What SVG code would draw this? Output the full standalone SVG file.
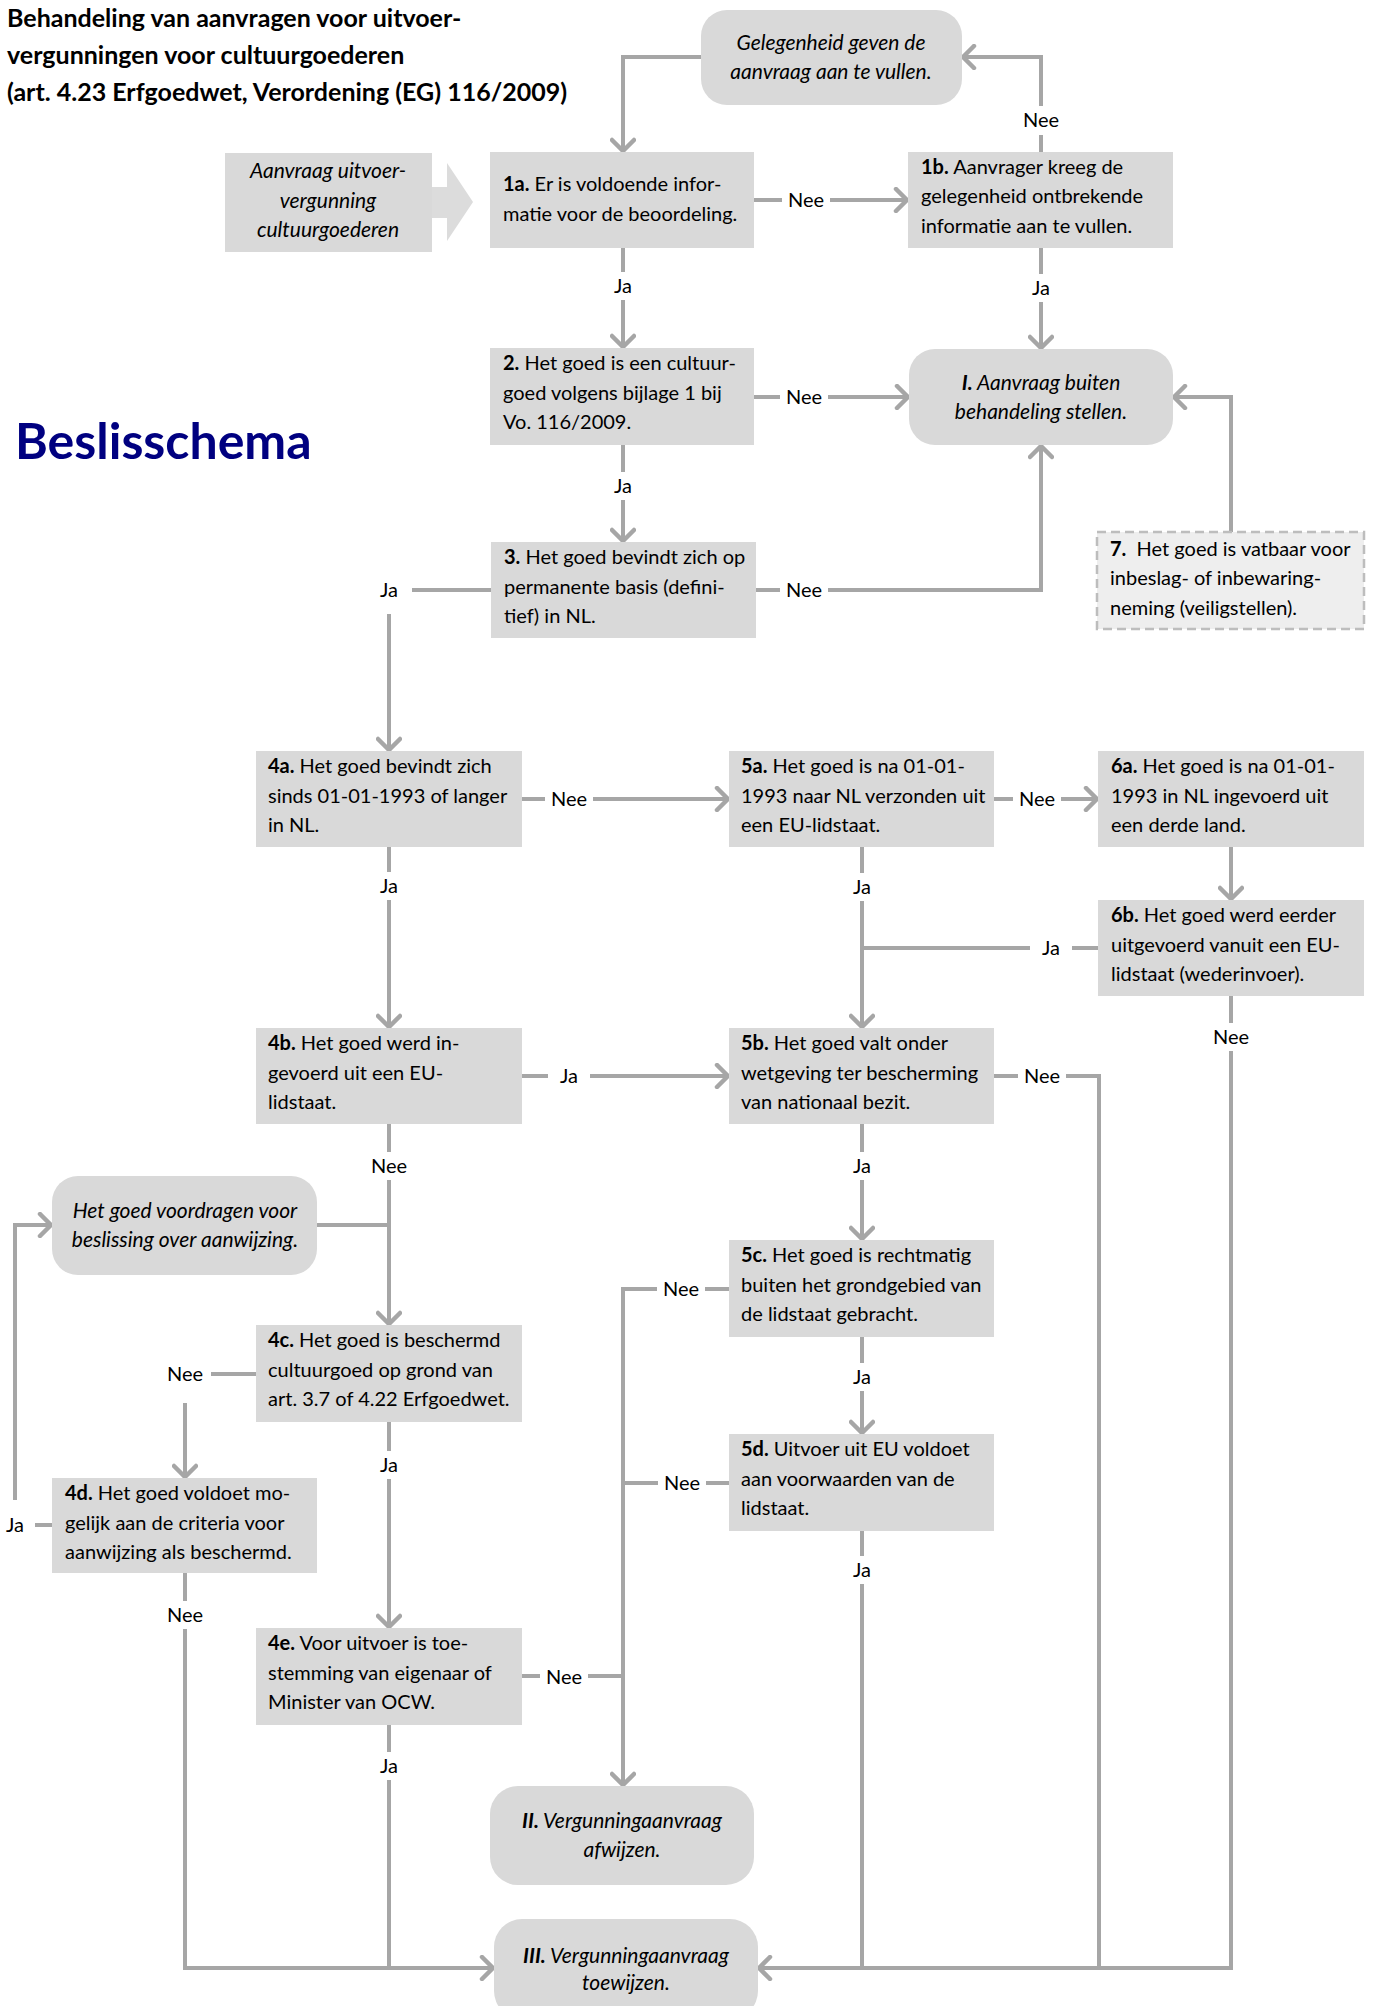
<svg xmlns="http://www.w3.org/2000/svg" width="1376" height="2006" viewBox="0 0 1376 2006">
<defs>
<style>
.bg{fill:#ffffff}
.box{fill:#d9d9d9}
.sarr{fill:#dcdcdc}
.dash{fill:#eeeeee;stroke:#bdbdbd;stroke-width:2.5;stroke-dasharray:9 5}
.t{font-family:Lato,"Open Sans","Liberation Sans",sans-serif;font-size:20px;fill:#000}
.it{font-style:italic;text-anchor:middle;font-size:21px}
.b{font-weight:bold}
.title{font-family:Lato,"Open Sans","Liberation Sans",sans-serif;font-size:25px;font-weight:bold;fill:#000}
.head{font-family:Lato,"Open Sans","Liberation Sans",sans-serif;font-size:50px;font-weight:bold;fill:#000080}
.c{fill:none;stroke:#a6a6a6;stroke-width:4;stroke-linejoin:miter}
.ca{fill:none;stroke:#a6a6a6;stroke-width:4;marker-end:url(#arr)}
.lb{fill:#ffffff}
.lt{font-family:Lato,"Open Sans","Liberation Sans",sans-serif;font-size:20px;fill:#000;text-anchor:middle}
</style>
<marker id="arr" markerUnits="userSpaceOnUse" viewBox="0 0 24 26" markerWidth="24" markerHeight="26" refX="21" refY="13" orient="auto">
<path d="M9,2 L20,13 L9,24" fill="none" stroke="#a6a6a6" stroke-width="4.5" stroke-linecap="round" stroke-linejoin="round"/>
</marker>
</defs>
<rect class="bg" x="0" y="0" width="1376" height="2006"/>

<g id="title">
<text class="title" x="7" y="27">Behandeling van aanvragen voor uitvoer-</text>
<text class="title" x="7" y="64">vergunningen voor cultuurgoederen</text>
<text class="title" x="7" y="101">(art. 4.23 Erfgoedwet, Verordening (EG) 116/2009)</text>
</g>
<g id="heading">
<text class="head" x="15" y="459">Beslisschema</text>
</g>

<g id="connectors">
<path class="ca" d="M701,57 H623 V152"/>
<path class="ca" d="M1041,152 V57 H962"/>
<path class="ca" d="M754,200 H908"/>
<path class="ca" d="M623,248 V348"/>
<path class="ca" d="M1041,248 V349"/>
<path class="ca" d="M754,397 H909"/>
<path class="ca" d="M623,445 V542"/>
<path class="ca" d="M756,590 H1041 V445"/>
<path class="ca" d="M1231,532 V397 H1173"/>
<path class="ca" d="M491,590 H389 V751"/>
<path class="ca" d="M522,799 H729"/>
<path class="ca" d="M994,799 H1098"/>
<path class="ca" d="M389,847 V1028"/>
<path class="ca" d="M862,847 V1028"/>
<path class="ca" d="M1231,847 V900"/>
<path class="c" d="M1098,948 H862"/>
<path class="ca" d="M522,1076 H729"/>
<path class="c" d="M994,1076 H1099 V1968"/>
<path class="ca" d="M1231,996 V1968 H758"/>
<path class="ca" d="M862,1124 V1240"/>
<path class="ca" d="M862,1337 V1434"/>
<path class="c" d="M862,1531 V1968"/>
<path class="ca" d="M729,1289 H623 V1786"/>
<path class="c" d="M729,1483 H623"/>
<path class="c" d="M522,1676 H623"/>
<path class="ca" d="M389,1124 V1325"/>
<path class="c" d="M317,1225 H389"/>
<path class="ca" d="M256,1374 H185 V1478"/>
<path class="ca" d="M52,1525 H15 V1225 H52"/>
<path class="ca" d="M389,1422 V1628"/>
<path class="ca" d="M185,1573 V1968 H494"/>
<path class="c" d="M389,1725 V1968"/>

<rect class="lb" x="1020" y="106" width="42" height="29"/><text class="lt" x="1041" y="127">Nee</text>
<rect class="lb" x="782" y="190" width="48" height="20"/><text class="lt" x="806" y="207">Nee</text>
<rect class="lb" x="611" y="272" width="24" height="28"/><text class="lt" x="623" y="293">Ja</text>
<rect class="lb" x="1029" y="274" width="24" height="28"/><text class="lt" x="1041" y="295">Ja</text>
<rect class="lb" x="780" y="387" width="48" height="20"/><text class="lt" x="804" y="404">Nee</text>
<rect class="lb" x="611" y="472" width="24" height="28"/><text class="lt" x="623" y="493">Ja</text>
<rect class="lb" x="780" y="580" width="48" height="20"/><text class="lt" x="804" y="597">Nee</text>
<rect class="lb" x="366" y="572" width="46" height="42"/><text class="lt" x="389" y="597">Ja</text>
<rect class="lb" x="545" y="789" width="48" height="20"/><text class="lt" x="569" y="806">Nee</text>
<rect class="lb" x="1013" y="789" width="48" height="20"/><text class="lt" x="1037" y="806">Nee</text>
<rect class="lb" x="377" y="872" width="24" height="28"/><text class="lt" x="389" y="893">Ja</text>
<rect class="lb" x="850" y="873" width="24" height="28"/><text class="lt" x="862" y="894">Ja</text>
<rect class="lb" x="1030" y="938" width="42" height="20"/><text class="lt" x="1051" y="955">Ja</text>
<rect class="lb" x="548" y="1066" width="42" height="20"/><text class="lt" x="569" y="1083">Ja</text>
<rect class="lb" x="1018" y="1066" width="48" height="20"/><text class="lt" x="1042" y="1083">Nee</text>
<rect class="lb" x="1210" y="1023" width="42" height="28"/><text class="lt" x="1231" y="1044">Nee</text>
<rect class="lb" x="368" y="1152" width="42" height="28"/><text class="lt" x="389" y="1173">Nee</text>
<rect class="lb" x="850" y="1152" width="24" height="28"/><text class="lt" x="862" y="1173">Ja</text>
<rect class="lb" x="657" y="1279" width="48" height="20"/><text class="lt" x="681" y="1296">Nee</text>
<rect class="lb" x="158" y="1356" width="53" height="47"/><text class="lt" x="185" y="1381">Nee</text>
<rect class="lb" x="850" y="1363" width="24" height="28"/><text class="lt" x="862" y="1384">Ja</text>
<rect class="lb" x="377" y="1451" width="24" height="28"/><text class="lt" x="389" y="1472">Ja</text>
<rect class="lb" x="658" y="1473" width="48" height="20"/><text class="lt" x="682" y="1490">Nee</text>
<rect class="lb" x="0" y="1500" width="35" height="45"/><text class="lt" x="15" y="1532">Ja</text>
<rect class="lb" x="850" y="1556" width="24" height="28"/><text class="lt" x="862" y="1577">Ja</text>
<rect class="lb" x="164" y="1601" width="42" height="28"/><text class="lt" x="185" y="1622">Nee</text>
<rect class="lb" x="540" y="1667" width="48" height="20"/><text class="lt" x="564" y="1684">Nee</text>
<rect class="lb" x="377" y="1752" width="24" height="28"/><text class="lt" x="389" y="1773">Ja</text>
</g>

<g id="node-G">
<rect class="box" x="701" y="10" width="261" height="95" rx="26"/>
<text class="t it" x="831" y="50">Gelegenheid geven de</text>
<text class="t it" x="831" y="79">aanvraag aan te vullen.</text>
</g>
<g id="node-start">
<rect class="box" x="225" y="153" width="207" height="99"/>
<polygon class="sarr" points="432,187 447,187 447,163 473,202 447,241 447,218 432,218"/>
<text class="t it" x="328" y="178">Aanvraag uitvoer-</text>
<text class="t it" x="328" y="208">vergunning</text>
<text class="t it" x="328" y="237">cultuurgoederen</text>
</g>
<g id="node-1a">
<rect class="box" x="490" y="152" width="264" height="96"/>
<text class="t" x="503" y="191"><tspan class="b">1a.</tspan> Er is voldoende infor-</text>
<text class="t" x="503" y="221">matie voor de beoordeling.</text>
</g>
<g id="node-1b">
<rect class="box" x="908" y="152" width="265" height="96"/>
<text class="t" x="921" y="174"><tspan class="b">1b.</tspan> Aanvrager kreeg de</text>
<text class="t" x="921" y="203">gelegenheid ontbrekende</text>
<text class="t" x="921" y="233">informatie aan te vullen.</text>
</g>
<g id="node-I">
<rect class="box" x="909" y="349" width="264" height="96" rx="26"/>
<text class="t it" x="1041" y="390"><tspan class="b">I.</tspan> Aanvraag buiten</text>
<text class="t it" x="1041" y="419">behandeling stellen.</text>
</g>
<g id="node-2">
<rect class="box" x="490" y="348" width="264" height="97"/>
<text class="t" x="503" y="370"><tspan class="b">2.</tspan> Het goed is een cultuur-</text>
<text class="t" x="503" y="400">goed volgens bijlage 1 bij</text>
<text class="t" x="503" y="429">Vo. 116/2009.</text>
</g>
<g id="node-3">
<rect class="box" x="491" y="542" width="265" height="96"/>
<text class="t" x="504" y="564"><tspan class="b">3.</tspan> Het goed bevindt zich op</text>
<text class="t" x="504" y="594">permanente basis (defini-</text>
<text class="t" x="504" y="623">tief) in NL.</text>
</g>
<g id="node-7">
<rect class="dash" x="1097" y="532" width="267" height="97"/>
<text class="t" x="1110" y="556"><tspan class="b">7.</tspan>&#160; Het goed is vatbaar voor</text>
<text class="t" x="1110" y="585">inbeslag- of inbewaring-</text>
<text class="t" x="1110" y="615">neming (veiligstellen).</text>
</g>
<g id="node-4a">
<rect class="box" x="256" y="751" width="266" height="96"/>
<text class="t" x="268" y="773"><tspan class="b">4a.</tspan> Het goed bevindt zich</text>
<text class="t" x="268" y="803">sinds 01-01-1993 of langer</text>
<text class="t" x="268" y="832">in NL.</text>
</g>
<g id="node-5a">
<rect class="box" x="729" y="751" width="265" height="96"/>
<text class="t" x="741" y="773"><tspan class="b">5a.</tspan> Het goed is na 01-01-</text>
<text class="t" x="741" y="803">1993 naar NL verzonden uit</text>
<text class="t" x="741" y="832">een EU-lidstaat.</text>
</g>
<g id="node-6a">
<rect class="box" x="1098" y="751" width="266" height="96"/>
<text class="t" x="1111" y="773"><tspan class="b">6a.</tspan> Het goed is na 01-01-</text>
<text class="t" x="1111" y="803">1993 in NL ingevoerd uit</text>
<text class="t" x="1111" y="832">een derde land.</text>
</g>
<g id="node-6b">
<rect class="box" x="1098" y="900" width="266" height="96"/>
<text class="t" x="1111" y="922"><tspan class="b">6b.</tspan> Het goed werd eerder</text>
<text class="t" x="1111" y="952">uitgevoerd vanuit een EU-</text>
<text class="t" x="1111" y="981">lidstaat (wederinvoer).</text>
</g>
<g id="node-4b">
<rect class="box" x="256" y="1028" width="266" height="96"/>
<text class="t" x="268" y="1050"><tspan class="b">4b.</tspan> Het goed werd in-</text>
<text class="t" x="268" y="1080">gevoerd uit een EU-</text>
<text class="t" x="268" y="1109">lidstaat.</text>
</g>
<g id="node-5b">
<rect class="box" x="729" y="1028" width="265" height="96"/>
<text class="t" x="741" y="1050"><tspan class="b">5b.</tspan> Het goed valt onder</text>
<text class="t" x="741" y="1080">wetgeving ter bescherming</text>
<text class="t" x="741" y="1109">van nationaal bezit.</text>
</g>
<g id="node-V">
<rect class="box" x="52" y="1176" width="265" height="99" rx="26"/>
<text class="t it" x="185" y="1218">Het goed voordragen voor</text>
<text class="t it" x="185" y="1247">beslissing over aanwijzing.</text>
</g>
<g id="node-5c">
<rect class="box" x="729" y="1240" width="265" height="97"/>
<text class="t" x="741" y="1262"><tspan class="b">5c.</tspan> Het goed is rechtmatig</text>
<text class="t" x="741" y="1292">buiten het grondgebied van</text>
<text class="t" x="741" y="1321">de lidstaat gebracht.</text>
</g>
<g id="node-4c">
<rect class="box" x="256" y="1325" width="266" height="97"/>
<text class="t" x="268" y="1347"><tspan class="b">4c.</tspan> Het goed is beschermd</text>
<text class="t" x="268" y="1377">cultuurgoed op grond van</text>
<text class="t" x="268" y="1406">art. 3.7 of 4.22 Erfgoedwet.</text>
</g>
<g id="node-5d">
<rect class="box" x="729" y="1434" width="265" height="97"/>
<text class="t" x="741" y="1456"><tspan class="b">5d.</tspan> Uitvoer uit EU voldoet</text>
<text class="t" x="741" y="1486">aan voorwaarden van de</text>
<text class="t" x="741" y="1515">lidstaat.</text>
</g>
<g id="node-4d">
<rect class="box" x="52" y="1478" width="265" height="95"/>
<text class="t" x="65" y="1500"><tspan class="b">4d.</tspan> Het goed voldoet mo-</text>
<text class="t" x="65" y="1530">gelijk aan de criteria voor</text>
<text class="t" x="65" y="1559">aanwijzing als beschermd.</text>
</g>
<g id="node-4e">
<rect class="box" x="256" y="1628" width="266" height="97"/>
<text class="t" x="268" y="1650"><tspan class="b">4e.</tspan> Voor uitvoer is toe-</text>
<text class="t" x="268" y="1680">stemming van eigenaar of</text>
<text class="t" x="268" y="1709">Minister van OCW.</text>
</g>
<g id="node-II">
<rect class="box" x="490" y="1786" width="264" height="99" rx="28"/>
<text class="t it" x="622" y="1828"><tspan class="b">II.</tspan> Vergunningaanvraag</text>
<text class="t it" x="622" y="1857">afwijzen.</text>
</g>
<g id="node-III">
<rect class="box" x="494" y="1919" width="264" height="100" rx="28"/>
<text class="t it" x="626" y="1963"><tspan class="b">III.</tspan> Vergunningaanvraag</text>
<text class="t it" x="626" y="1990">toewijzen.</text>
</g>
</svg>
